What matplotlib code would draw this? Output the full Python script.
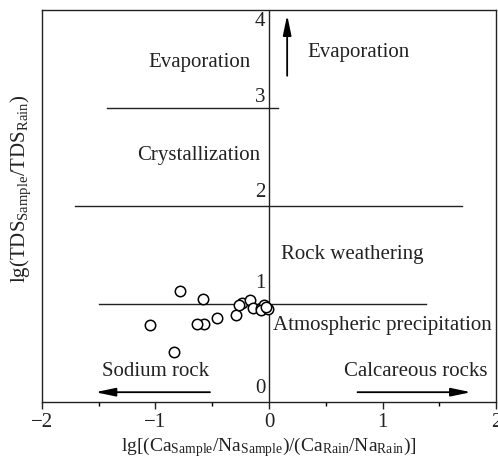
import matplotlib
matplotlib.use("Agg")
import matplotlib.pyplot as plt
from matplotlib.ticker import MultipleLocator

plt.rcParams['font.family'] = ['Liberation Serif', 'DejaVu Serif']
plt.rcParams['mathtext.fontset'] = 'custom'
plt.rcParams['mathtext.rm'] = 'Liberation Serif'
plt.rcParams['mathtext.it'] = 'Liberation Serif:italic'

# sample points
x_ratio = [-0.78, -0.58, -0.24, -0.17, -0.14, -0.07, -0.04, -0.07, -0.01,
           -0.29, -0.46, -0.57, -0.63, -1.05, -0.84, -0.26, -0.03]
y_tds = [1.13, 1.05, 1.01, 1.04, 0.96, 0.96, 0.99, 0.94, 0.95,
         0.89, 0.86, 0.80, 0.80, 0.79, 0.51, 0.99, 0.97]

# boundary lines: (y, x_start, x_end)
bounds_y = [1, 2, 3]
bounds_x0 = [-1.50, -1.71, -1.43]
bounds_x1 = [1.38, 1.70, 0.08]

y_labels = ['0', '1', '2', '3', '4']

col = '#222222'
fig = plt.figure(figsize=(4.98, 4.61), dpi=100)
ax = fig.add_axes([0.0843, 0.128, 0.9117, 0.85])
ax.set_xlim(-2, 2)
ax.set_ylim(0, 4)

ax.axvline(0, color=col, lw=1.0)
for yv, x0, x1 in zip(bounds_y, bounds_x0, bounds_x1):
    ax.plot([x0, x1], [yv, yv], color=col, lw=1.0)

ax.plot(x_ratio, y_tds, 'o', ms=7.5, mfc='white', mec='black', mew=1.1, zorder=5)

# y value labels drawn beside the centre line
lab_y = [0.14, 1.21, 2.14, 3.11, 3.88]
for lab, yy in zip(y_labels, lab_y):
    ax.text(-0.03, yy, lab, ha='right', va='center', fontsize=15, color=col)

fs = 15
ax.text(-0.61, 3.47, 'Evaporation', ha='center', va='center', fontsize=fs, color=col)
ax.text(0.79, 3.57, 'Evaporation', ha='center', va='center', fontsize=fs, color=col)
ax.text(-0.62, 2.52, 'Crystallization', ha='center', va='center', fontsize=fs, color=col)
ax.text(0.73, 1.51, 'Rock weathering', ha='center', va='center', fontsize=fs, color=col)
ax.text(1.0, 0.78, 'Atmospheric precipitation', ha='center', va='center', fontsize=fs, color=col)
ax.text(-1.0, 0.31, 'Sodium rock', ha='center', va='center', fontsize=fs, color=col)
ax.text(1.29, 0.31, 'Calcareous rocks', ha='center', va='center', fontsize=fs, color=col)

arrow = dict(arrowstyle='-|>,head_length=1.2,head_width=0.25', color='black', lw=1.3,
             shrinkA=0, shrinkB=0)
ax.annotate('', xy=(0.16, 3.95), xytext=(0.16, 3.33), arrowprops=arrow)
ax.annotate('', xy=(-1.53, 0.10), xytext=(-0.52, 0.10), arrowprops=arrow)
ax.annotate('', xy=(1.78, 0.10), xytext=(0.78, 0.10), arrowprops=arrow)

ax.xaxis.set_major_locator(MultipleLocator(1))
ax.xaxis.set_minor_locator(MultipleLocator(0.5))
ax.tick_params(axis='x', which='major', direction='out', length=5, width=1, labelsize=15,
               colors=col, pad=3)
ax.tick_params(axis='x', which='minor', direction='out', length=3, width=1)
ax.set_yticks([])
ax.set_xticks([-2, -1, 0, 1, 2], ['\u22122', '\u22121', '0', '1', '2'])
for s in ax.spines.values():
    s.set_color(col)
    s.set_linewidth(1.0)

ax.set_xlabel(r'lg[(Ca$_{\mathrm{Sample}}$/Na$_{\mathrm{Sample}}$)/(Ca$_{\mathrm{Rain}}$/Na$_{\mathrm{Rain}}$)]',
              fontsize=14, color=col, labelpad=2)
ax.set_ylabel(r'lg(TDS$_{\mathrm{Sample}}$/TDS$_{\mathrm{Rain}}$)', fontsize=15, color=col)
ax.yaxis.set_label_coords(-0.02, 0.545)

fig.savefig('out.png', dpi=100)
